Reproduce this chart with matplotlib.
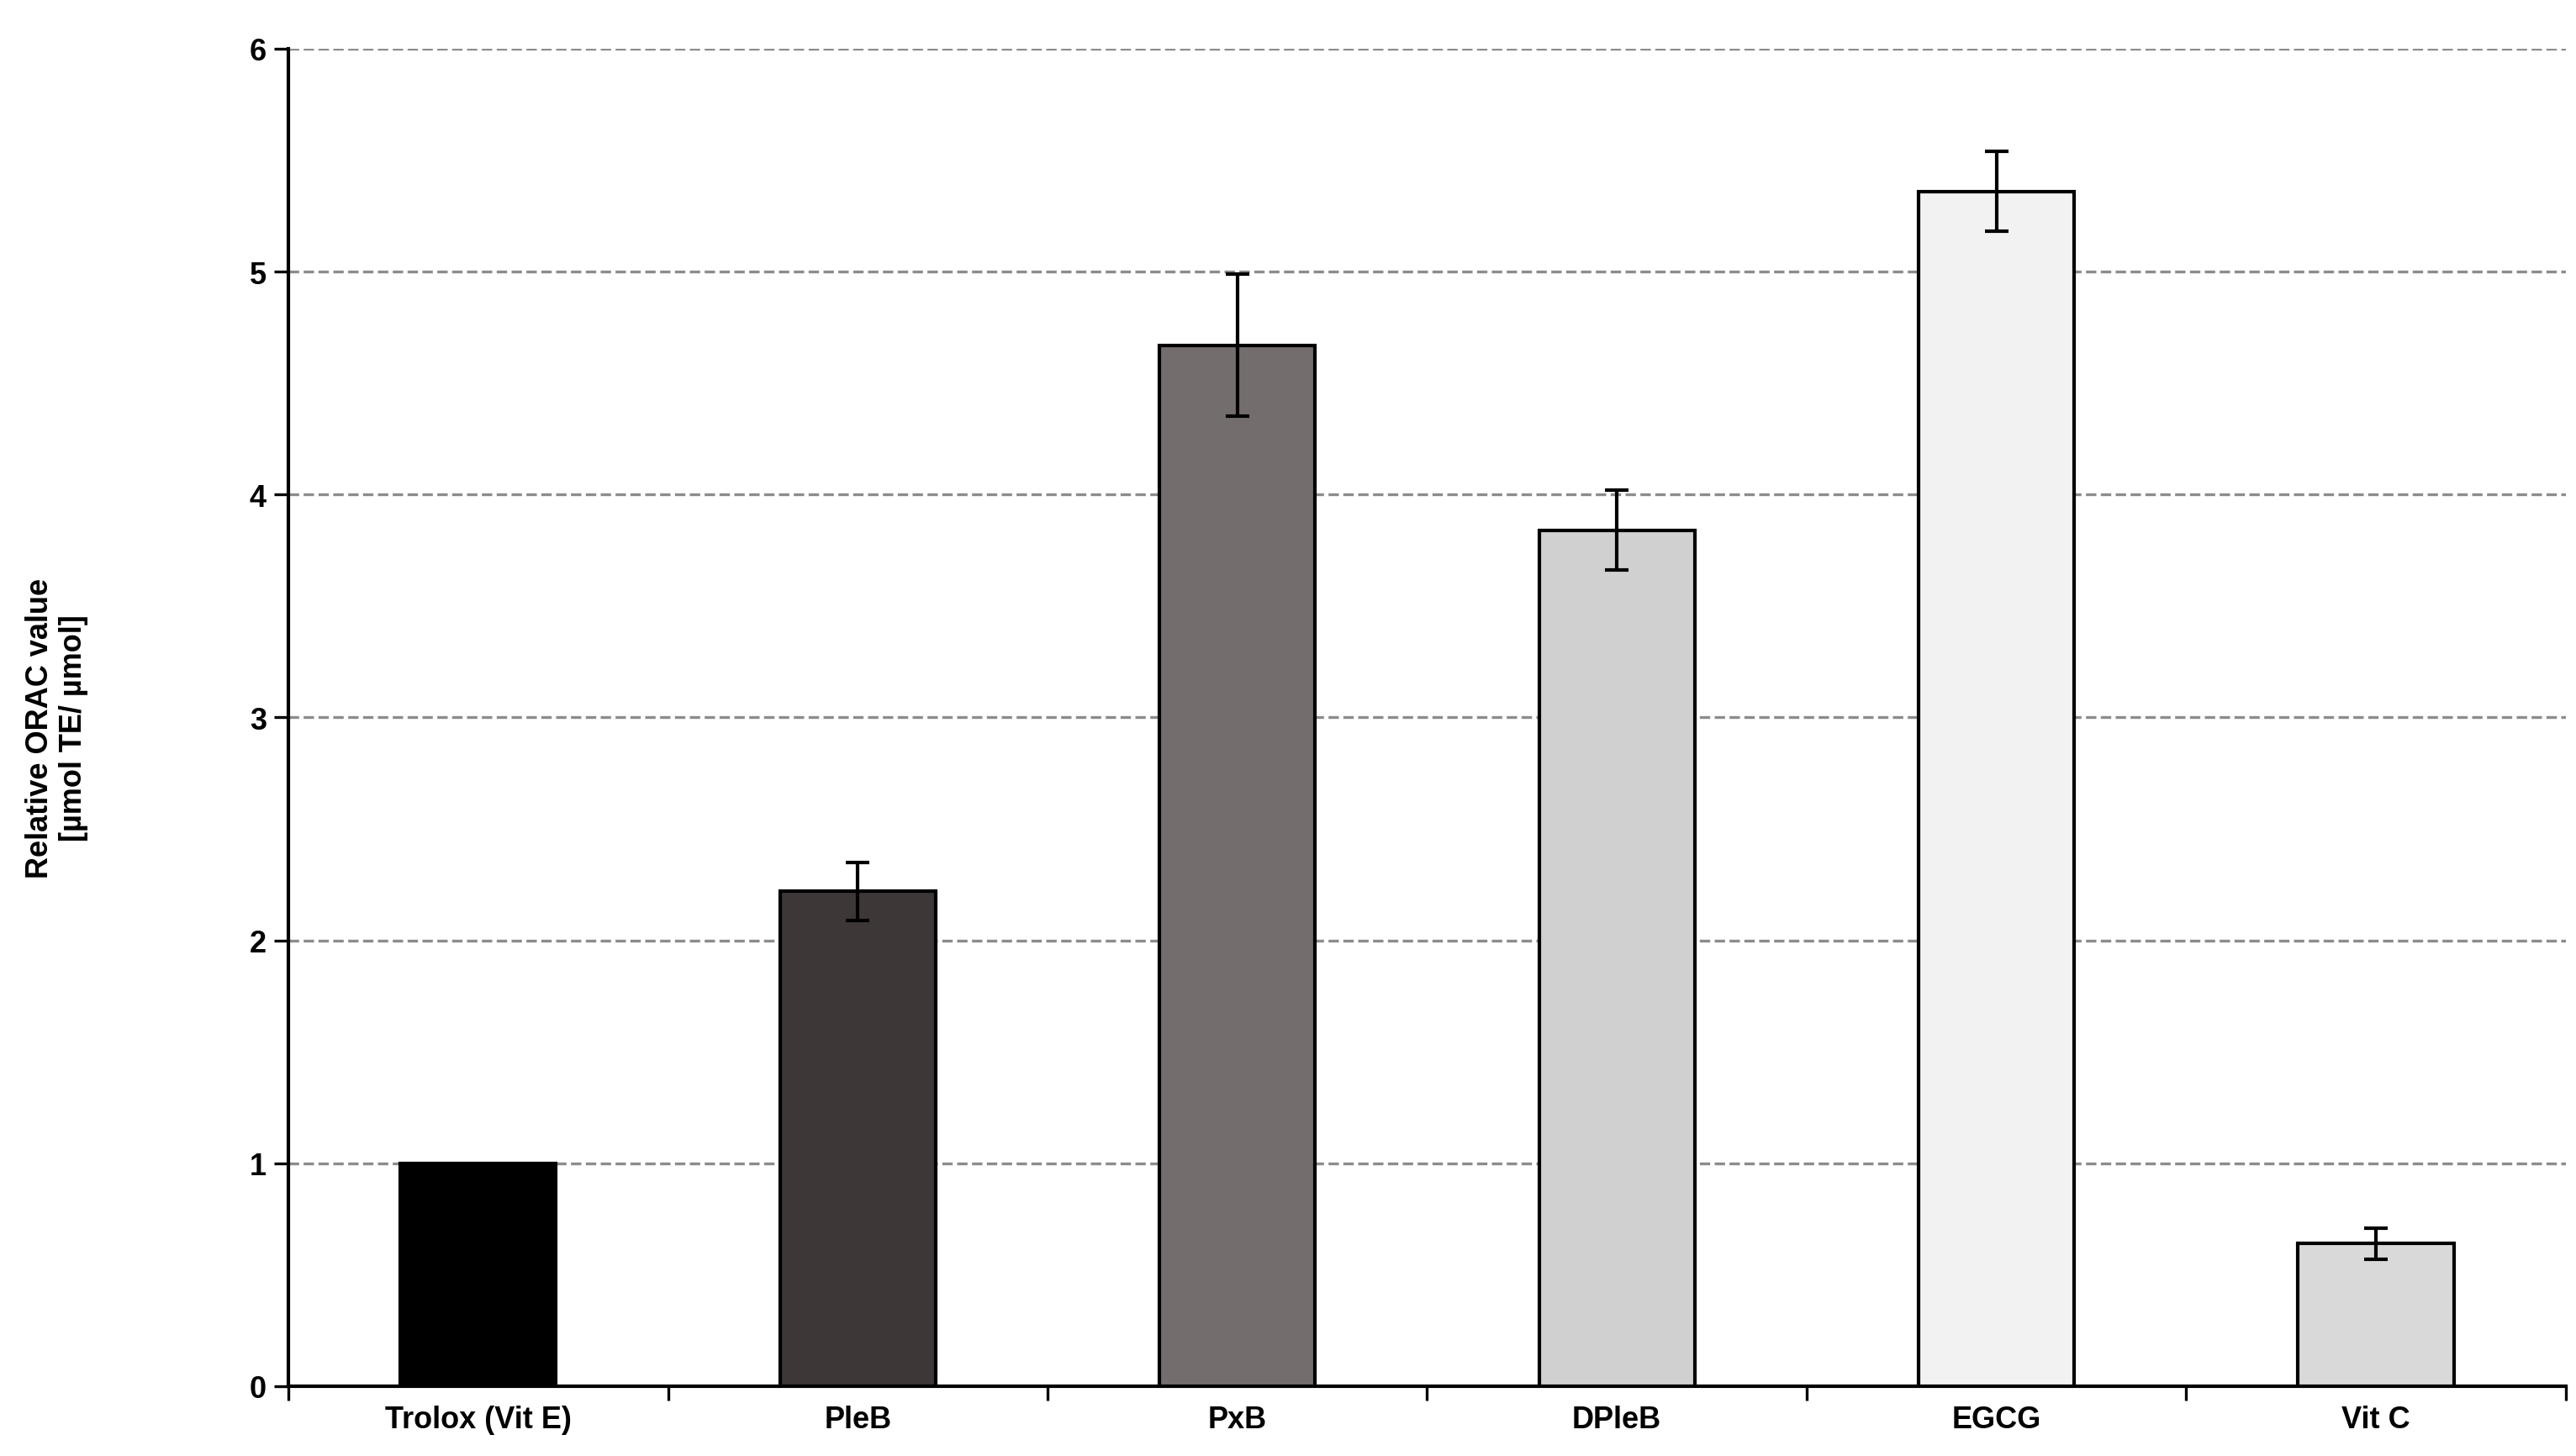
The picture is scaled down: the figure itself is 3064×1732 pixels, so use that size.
import numpy as np
import matplotlib.pyplot as plt

categories = ['Trolox (Vit E)', 'PleB', 'PxB', 'DPleB', 'EGCG', 'Vit C']
values = [1.0, 2.22, 4.67, 3.84, 5.36, 0.64]
errors = [0.0, 0.13, 0.32, 0.18, 0.18, 0.07]
colors = ['#000000', '#3d3837', '#736d6d', '#d1d0d0', '#f2f2f2', '#d9d9d9']

plt.rcParams['font.family'] = ['Liberation Sans', 'DejaVu Sans']

fig = plt.figure(figsize=(15.32, 8.665), dpi=200)
ax = fig.add_axes([0.112, 0.048, 0.884, 0.918])

x = np.arange(len(categories))
ax.bar(x, values, width=0.41, color=colors, edgecolor='black', linewidth=1.5, zorder=3)
for xi, v, e in zip(x, values, errors):
    if e > 0:
        ax.errorbar(xi, v, yerr=e, fmt='none', ecolor='black', elinewidth=1.5,
                    capsize=5, capthick=1.5, zorder=4)

ax.set_xlim(-0.5, len(categories) - 0.5)
ax.set_ylim(0, 6)
ax.set_yticks(range(7))
ax.yaxis.grid(True, linestyle='--', color='#8c8c8c', linewidth=1.2, zorder=0)
ax.set_axisbelow(True)

ax.set_xticks(x)
ax.set_xticklabels(categories, fontsize=13, fontweight='bold')
ax.tick_params(axis='x', which='major', length=0, pad=8)
ax.set_xticks(np.arange(-0.5, len(categories)), minor=True)
ax.tick_params(axis='x', which='minor', length=6, width=1.2)
ax.tick_params(axis='y', labelsize=13, width=1.2, length=6)
for lab in ax.get_yticklabels():
    lab.set_fontweight('bold')

ax.spines['top'].set_visible(False)
ax.spines['right'].set_visible(False)
ax.spines['left'].set_linewidth(1.5)
ax.spines['bottom'].set_linewidth(1.5)

fig.text(0.022, 0.5, 'Relative ORAC value\n[µmol TE/ µmol]', rotation=90,
         ha='center', va='center', fontsize=13, fontweight='bold')

fig.savefig('out.png', dpi=200)
